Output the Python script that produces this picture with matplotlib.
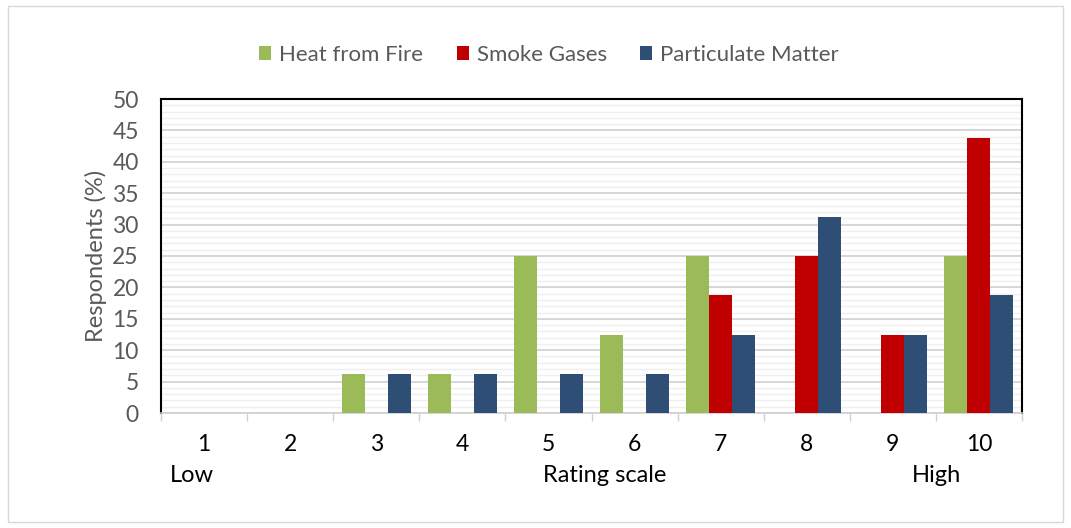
import numpy as np
import matplotlib
matplotlib.use("Agg")
import matplotlib.pyplot as plt
from matplotlib.patches import Rectangle

plt.rcParams['font.family'] = ['Lato', 'DejaVu Sans']

ratings = [1, 2, 3, 4, 5, 6, 7, 8, 9, 10]
heat = [0, 0, 6.25, 6.25, 25, 12.5, 25, 0, 0, 25]
smoke = [0, 0, 0, 0, 0, 0, 18.75, 25, 12.5, 43.75]
particulate = [0, 0, 6.25, 6.25, 6.25, 6.25, 12.5, 31.25, 12.5, 18.75]
series = [("Heat from Fire", heat, "#9BBB59"),
          ("Smoke Gases", smoke, "#C00000"),
          ("Particulate Matter", particulate, "#2E4E76")]

fig = plt.figure(figsize=(10.71, 5.28), dpi=100)
fig.patches.append(Rectangle((8/1071, 6/528), 1055/1071, 516/528, transform=fig.transFigure,
                             fill=False, ec="#d9d9d9", lw=1))
ax = fig.add_axes([161/1071, 1-413/528, 861/1071, 314/528])

x = np.arange(len(ratings))
w = 0.267
for i, (lbl, vals, col) in enumerate(series):
    ax.bar(x + (i-1)*w, vals, w, color=col, label=lbl, zorder=3)

ax.set_xlim(-0.5, len(ratings)-0.5)
ax.set_ylim(0, 50)
ax.set_yticks(range(0, 51, 5))
ax.set_yticks(range(0, 51, 1), minor=True)
ax.grid(axis="y", which="major", color="#d0d0d0", lw=1.2, zorder=0)
ax.grid(axis="y", which="minor", color="#efefef", lw=1.0, zorder=0)
ax.tick_params(axis="y", which="both", length=0, labelsize=16.5, labelcolor="#595959", pad=16)

ax.set_xticks(x)
ax.set_xticklabels([str(r) for r in ratings])
ax.tick_params(axis="x", which="major", length=0, labelsize=16.5, pad=15)
ax.set_xticks(np.arange(-0.5, len(ratings), 1), minor=True)
ax.tick_params(axis="x", which="minor", length=6, color="#d0d0d0", width=1)

for s in ("left", "top", "right"):
    ax.spines[s].set_color("black"); ax.spines[s].set_linewidth(1.5)
ax.spines["bottom"].set_color("#d0d0d0"); ax.spines["bottom"].set_linewidth(1.2)

ax.set_ylabel("Respondents (%)", fontsize=17, color="#595959", labelpad=4)

fig.text(170/1071, 1-476/528, "Low", fontsize=17, va="center", ha="left")
fig.text(605/1071, 1-476/528, "Rating scale", fontsize=17, va="center", ha="center")
fig.text(936/1071, 1-476/528, "High", fontsize=17, va="center", ha="center")

fig.legend(loc="center", bbox_to_anchor=(549/1071, 1-55/528), ncol=3, frameon=False,
           fontsize=16, handlelength=0.55, handleheight=0.55, handletextpad=0.35,
           columnspacing=1.5, labelcolor="#595959")

fig.savefig("out.png", dpi=100)
